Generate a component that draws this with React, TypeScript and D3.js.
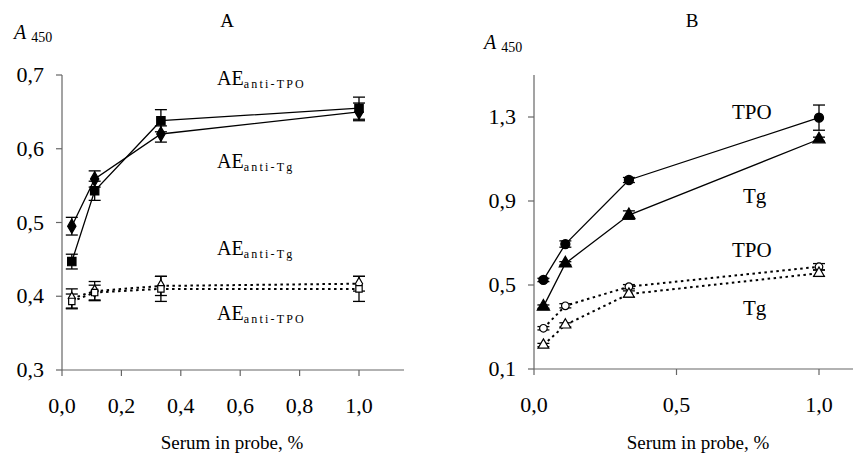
import React from 'react';
import * as d3 from 'd3';

// serum concentration, %
const xValues = [0.033, 0.11, 0.333, 1.0];

// panel A
const aTpoSolid = [0.447, 0.543, 0.638, 0.655];
const aTpoSolidErr = [0.01, 0.013, 0.015, 0.015];
const aTgSolid = [0.495, 0.559, 0.62, 0.65];
const aTgSolidErr = [0.012, 0.011, 0.011, 0.012];
const aTgOpen = [0.397, 0.407, 0.414, 0.417];
const aTgOpenErr = [0.013, 0.013, 0.013, 0.01];
const aTpoOpen = [0.393, 0.405, 0.41, 0.41];
const aTpoOpenErr = [0.01, 0.01, 0.017, 0.017];

// panel B
const bTpoSolid = [0.524, 0.695, 1.0, 1.297];
const bTpoSolidErr = [0.008, 0.015, 0.012, 0.06];
const bTgSolid = [0.397, 0.603, 0.833, 1.194];
const bTgSolidErr = [0.008, 0.008, 0.02, 0.01];
const bTpoOpen = [0.294, 0.401, 0.492, 0.587];
const bTpoOpenErr = [0.008, 0.01, 0.01, 0.015];
const bTgOpen = [0.214, 0.31, 0.457, 0.556];
const bTgOpenErr = [0.008, 0.01, 0.015, 0.015];

const aXTicks = [0, 0.2, 0.4, 0.6, 0.8, 1.0];
const aYTicks = [0.3, 0.4, 0.5, 0.6, 0.7];
const bXTicks = [0, 0.5, 1.0];
const bYTicks = [0.1, 0.5, 0.9, 1.3];

const fmt = (v: number) => d3.format('.1f')(v).replace('.', ',');
const FONT = "'Liberation Serif', 'Times New Roman', Times, serif";

type Series = {
  values: number[];
  err: number[];
  symbol: d3.SymbolType;
  filled: boolean;
  dashed: boolean;
  size: number;
};

function Panel(props: {
  x0: number; x1: number; y0: number; y1: number;
  xDomain: [number, number]; yDomain: [number, number];
  xTicks: number[]; yTicks: number[];
  series: Series[];
}) {
  const { series } = props;
  const x = d3.scaleLinear().domain(props.xDomain).range([props.x0, props.x1]);
  const y = d3.scaleLinear().domain(props.yDomain).range([props.y1, props.y0]);
  const line = d3.line<number>()
    .x((d, i) => x(xValues[i]))
    .y((d) => y(d));
  const axisColor = '#666';

  return (
    <g>
      {/* axes */}
      <line x1={x.range()[0]} x2={x.range()[0]} y1={props.y0} y2={props.y1} stroke={axisColor} strokeWidth={1.2} />
      <line x1={x.range()[0]} x2={props.x1} y1={props.y1} y2={props.y1} stroke={axisColor} strokeWidth={1.2} />
      {props.yTicks.map((t) => (
        <g key={'y' + t}>
          <line x1={x.range()[0] - 6} x2={x.range()[0]} y1={y(t)} y2={y(t)} stroke={axisColor} strokeWidth={1.2} />
          <text x={x.range()[0] - 18} y={y(t) + 7} textAnchor="end" fontSize={22}>{fmt(t)}</text>
        </g>
      ))}
      {props.xTicks.map((t) => (
        <g key={'x' + t}>
          <line x1={x(t)} x2={x(t)} y1={props.y1} y2={props.y1 + 6} stroke={axisColor} strokeWidth={1.2} />
          <text x={x(t)} y={props.y1 + 43} textAnchor="middle" fontSize={22}>{fmt(t)}</text>
        </g>
      ))}

      {/* lines */}
      {series.map((s, k) => (
        <path key={'l' + k} d={line(s.values) || ''} fill="none" stroke="#000"
          strokeWidth={s.dashed ? 2 : 1.3} strokeDasharray={s.dashed ? '2.5,3.5' : undefined} />
      ))}

      {/* error bars */}
      {series.map((s, k) => s.values.map((v, i) => {
        const cx = x(xValues[i]);
        const top = y(v + s.err[i]);
        const bot = y(v - s.err[i]);
        return (
          <g key={'e' + k + '-' + i} stroke="#000" strokeWidth={1.3}>
            <line x1={cx} x2={cx} y1={top} y2={bot} />
            <line x1={cx - 6} x2={cx + 6} y1={top} y2={top} />
            <line x1={cx - 6} x2={cx + 6} y1={bot} y2={bot} />
          </g>
        );
      }))}

      {/* markers */}
      {series.map((s, k) => s.values.map((v, i) => (
        <path key={'m' + k + '-' + i}
          d={d3.symbol(s.symbol, s.size)() || ''}
          transform={`translate(${x(xValues[i])},${y(v)})`}
          fill={s.filled ? '#000' : '#fff'} stroke="#000" strokeWidth={1.2} />
      )))}
    </g>
  );
}

function AELabel(props: { x: number; y: number; sub: string }) {
  return (
    <text x={props.x} y={props.y} fontSize={20}>
      AE<tspan fontSize={12} dy={3} letterSpacing={2.2}>{props.sub}</tspan>
    </text>
  );
}

export default function App() {
  return (
    <svg width={853} height={454} fontFamily={FONT}
      style={{ position: 'absolute', left: 0, top: 0, background: '#fff', fontFamily: FONT }}>
      {/* Panel A */}
      <text x={227} y={27} textAnchor="middle" fontSize={19}>A</text>
      <text x={14} y={39} fontSize={20}>
        <tspan fontStyle="italic">A</tspan><tspan fontSize={14} dx={5} dy={3}>450</tspan>
      </text>
      <Panel x0={62} x1={404} y0={75} y1={370}
        xDomain={[0, 1.1515]} yDomain={[0.3, 0.7]}
        xTicks={aXTicks} yTicks={aYTicks}
        series={[
          { values: aTpoSolid, err: aTpoSolidErr, symbol: d3.symbolSquare, filled: true, dashed: false, size: 70 },
          { values: aTgSolid, err: aTgSolidErr, symbol: d3.symbolDiamond, filled: true, dashed: false, size: 60 },
          { values: aTgOpen, err: aTgOpenErr, symbol: d3.symbolDiamond, filled: false, dashed: true, size: 45 },
          { values: aTpoOpen, err: aTpoOpenErr, symbol: d3.symbolSquare, filled: false, dashed: true, size: 40 },
        ]} />
      <AELabel x={217} y={85} sub="anti-TPO" />
      <AELabel x={217} y={168} sub="anti-Tg" />
      <AELabel x={217} y={255} sub="anti-Tg" />
      <AELabel x={217} y={320} sub="anti-TPO" />
      <text x={232} y={449} textAnchor="middle" fontSize={19}>Serum in probe, %</text>

      {/* Panel B */}
      <text x={692} y={27} textAnchor="middle" fontSize={19}>B</text>
      <text x={484} y={49} fontSize={20}>
        <tspan fontStyle="italic">A</tspan><tspan fontSize={14} dx={5} dy={3}>450</tspan>
      </text>
      <Panel x0={534} x1={853} y0={75} y1={369}
        xDomain={[0, 1.1193]} yDomain={[0.1, 1.5]}
        xTicks={bXTicks} yTicks={bYTicks}
        series={[
          { values: bTpoSolid, err: bTpoSolidErr, symbol: d3.symbolCircle, filled: true, dashed: false, size: 65 },
          { values: bTgSolid, err: bTgSolidErr, symbol: d3.symbolTriangle, filled: true, dashed: false, size: 65 },
          { values: bTpoOpen, err: bTpoOpenErr, symbol: d3.symbolCircle, filled: false, dashed: true, size: 45 },
          { values: bTgOpen, err: bTgOpenErr, symbol: d3.symbolTriangle, filled: false, dashed: true, size: 50 },
        ]} />
      <text x={732} y={119} fontSize={21}>TPO</text>
      <text x={743} y={203} fontSize={21}>Tg</text>
      <text x={732} y={257} fontSize={21}>TPO</text>
      <text x={743} y={315} fontSize={21}>Tg</text>
      <text x={698} y={449} textAnchor="middle" fontSize={19}>Serum in probe, %</text>
    </svg>
  );
}
